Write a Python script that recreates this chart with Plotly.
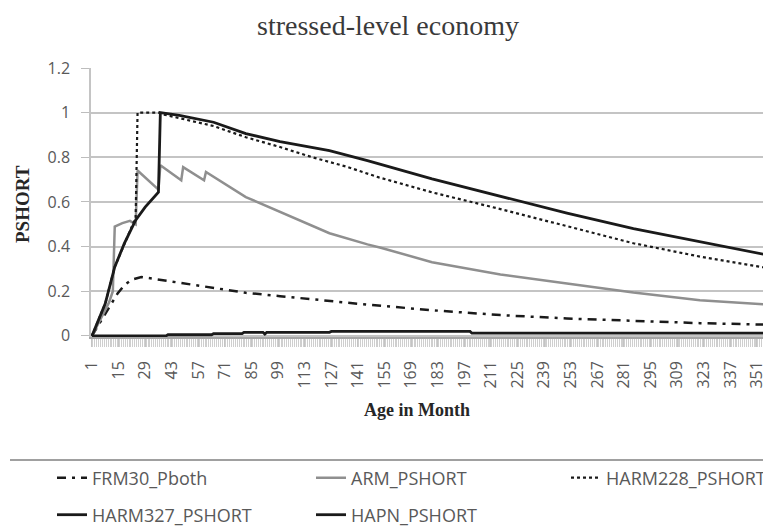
import plotly.graph_objects as go

# ---------------- data ----------------
frm30_m = [1, 14.5, 18, 22, 27, 34, 50, 65, 82, 100, 117, 146, 180, 216, 251, 286, 321, 358]
frm30_v = [0, 0.19, 0.227, 0.252, 0.264, 0.255, 0.236, 0.217, 0.193, 0.178, 0.163, 0.14, 0.115, 0.093, 0.078, 0.068, 0.057, 0.05]

arm_m = [1, 10, 12, 13, 17, 21, 24, 25, 36, 37, 48, 49, 60, 61, 82, 100, 110, 126, 146, 153, 180, 216, 251, 286, 321, 358]
arm_v = [0, 0.15, 0.2, 0.49, 0.505, 0.515, 0.50, 0.741, 0.655, 0.764, 0.697, 0.756, 0.697, 0.734, 0.622, 0.555, 0.52, 0.46, 0.41, 0.395, 0.33, 0.275, 0.235, 0.194, 0.16, 0.14]

harm228_m = [1, 8, 13, 18, 24, 25, 36, 37, 47, 65, 82, 100, 117, 135, 152, 180, 216, 251, 286, 321, 358]
harm228_v = [0, 0.145, 0.309, 0.413, 0.53, 1.0, 1.0, 0.995, 0.975, 0.94, 0.89, 0.846, 0.80, 0.758, 0.71, 0.643, 0.568, 0.49, 0.415, 0.355, 0.302]

harm327_m = [1, 8, 13, 18, 24, 29, 36, 37, 47, 65, 82, 100, 126, 146, 180, 216, 251, 286, 321, 358]
harm327_v = [0, 0.145, 0.309, 0.413, 0.518, 0.577, 0.644, 1.0, 0.988, 0.957, 0.906, 0.87, 0.83, 0.785, 0.703, 0.624, 0.55, 0.48, 0.42, 0.36]

hapn_m = [1, 40, 41, 64, 65, 80, 81, 91, 92, 93, 126, 127, 200, 201, 355, 357]
hapn_v = [0, 0, 0.005, 0.005, 0.01, 0.01, 0.016, 0.016, 0.008, 0.016, 0.016, 0.02, 0.02, 0.012, 0.012, 0.05]

tick_months = list(range(1, 352, 14))
y_ticks = [0, 0.2, 0.4, 0.6, 0.8, 1, 1.2]
y_labels = ["0", "0.2", "0.4", "0.6", "0.8", "1", "1.2"]

# ---------------- geometry ----------------
# the page body has an 8px default margin, so the figure is drawn 8px smaller
OFF = 8
SW, SH = 771, 528                      # window size
W, H = SW - OFF, SH - OFF              # figure size
PL, PR, PT, PB = 91, 771, 68, 337      # plot area in window pixels
ML, MR, MT, MB = PL - OFF, SW - PR, PT - OFF, SH - PB
PW, PH = W - ML - MR, H - MT - MB


def sx(px):
    """window x pixel -> paper x"""
    return (px - PL) / PW


def sy(py):
    """window y pixel -> paper y"""
    return (PB - py) / PH


fig = go.Figure()

series = [
    ("FRM30_Pboth", frm30_m, frm30_v, dict(color="#1a1a1a", width=2.5, dash="9px,6px,3px,6px"), "legend"),
    ("ARM_PSHORT", arm_m, arm_v, dict(color="#8f8f8f", width=2.5), "legend2"),
    ("HARM228_PSHORT", harm228_m, harm228_v, dict(color="#1a1a1a", width=2.2, dash="dot"), "legend3"),
    ("HARM327_PSHORT", harm327_m, harm327_v, dict(color="#1a1a1a", width=2.8), "legend4"),
    ("HAPN_PSHORT", hapn_m, hapn_v, dict(color="#1a1a1a", width=2.8), "legend5"),
]
for name, xs, ys, line, lg in series:
    fig.add_trace(go.Scatter(x=xs, y=ys, mode="lines", name=name, line=line, legend=lg))

legend_font = dict(family="Open Sans", size=18, color="#595959")
leg_pos = {
    "legend": (52, 478, "left"),
    "legend2": (311, 478, "left"),
    "legend3": (SW, 478, "right"),
    "legend4": (52, 515, "left"),
    "legend5": (311, 515, "left"),
}
legend_layouts = {}
for key, (lx, ly, anc) in leg_pos.items():
    legend_layouts[key] = dict(
        x=sx(lx), y=sy(ly), xanchor=anc, yanchor="middle",
        orientation="h", font=legend_font, bgcolor="rgba(0,0,0,0)", borderwidth=0,
    )

fig.update_layout(
    width=W, height=H,
    margin=dict(l=ML, r=MR, t=MT, b=MB, pad=0, autoexpand=False),
    paper_bgcolor="white", plot_bgcolor="white",
    showlegend=True,
    title=dict(text="stressed-level economy", x=(388 - OFF) / W, xref="container", xanchor="center",
               y=1 - (25 - OFF) / H, yref="container", yanchor="middle",
               font=dict(family="Liberation Serif", size=28, color="#3a3a3a")),
    xaxis=dict(
        range=[0.5, 358.4], tickmode="array", tickvals=tick_months,
        ticktext=[str(m) for m in tick_months], tickangle=-90,
        ticks="outside", ticklen=8, tickcolor="#c4c4c4", tickwidth=1,
        minor=dict(dtick=1, tick0=0.5, ticks="outside", ticklen=8, tickcolor="#cfcfcf", tickwidth=1, showgrid=False),
        showgrid=False, zeroline=False, automargin=False,
        showline=True, linecolor="#a6a6a6", linewidth=1.5,
        tickfont=dict(family="Open Sans", size=16, color="#595959"),
        ticklabelstandoff=8,
    ),
    yaxis=dict(
        range=[-0.005, 1.2], tickmode="array", tickvals=y_ticks, ticktext=y_labels,
        ticks="outside", ticklen=8, tickcolor="#bdbdbd", automargin=False,
        showgrid=True, gridcolor="#c4c4c4", gridwidth=1.5, zeroline=False,
        showline=True, linecolor="#c4c4c4", linewidth=1.5,
        tickfont=dict(family="Open Sans", size=16, color="#595959"),
        ticklabelstandoff=8,
    ),
    annotations=[
        dict(text="<b>PSHORT</b>", x=sx(22), y=sy(204), xref="paper", yref="paper",
             xanchor="center", yanchor="middle",
             textangle=-90, showarrow=False, font=dict(family="Liberation Serif", size=19, color="#262626")),
        dict(text="<b>Age in Month</b>", x=sx(417), y=sy(410), xref="paper", yref="paper",
             xanchor="center", yanchor="middle",
             showarrow=False, font=dict(family="Liberation Serif", size=18, color="#262626")),
    ],
    shapes=[
        dict(type="line", xref="paper", yref="paper", x0=sx(10), x1=1.0,
             y0=sy(460), y1=sy(460), line=dict(color="#a0a0a0", width=2)),
    ],
    **legend_layouts,
)

fig.write_html("out.html")
